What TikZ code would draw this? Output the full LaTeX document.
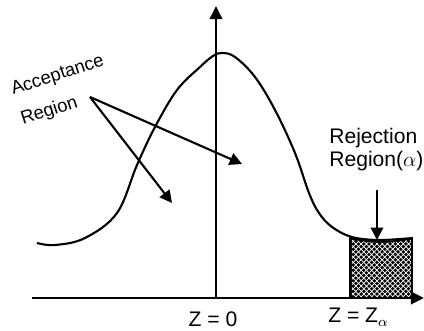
\documentclass[tikz,border=0pt]{standalone}
\usepackage{fontspec}
\setmainfont{Liberation Sans}
\usepackage{tikz}
\usetikzlibrary{arrows.meta, positioning, patterns}

\tikzset{
  axisline/.style={line width=1.7pt, -{Triangle[length=7.5pt,width=7pt]}},
  pointer/.style={line width=1.2pt, -{Triangle[length=7pt,width=7pt]}},
  bell/.style={line width=1.2pt},
  txt/.style={inner sep=0pt, font=\fontsize{12}{14}\selectfont},
}

\begin{document}
\begin{tikzpicture}[x=0.02cm, y=-0.02cm]
  \useasboundingbox (0,0) rectangle (424,331);

  % rejection area under the tail
  \fill[black] (350,298) -- (350,237) .. controls (380,242) .. (413,238) -- (413,298) -- cycle;
  \fill[pattern=crosshatch, pattern color=white] (352,298) -- (352,240) .. controls (380,244) .. (411,240) -- (411,298) -- cycle;
  \draw[line width=1.6pt] (350,298) -- (350,237);

  % axes
  \coordinate (origin) at (216,298);
  \coordinate (xstart) at (32,298);
  \coordinate (xend) at (424,298);
  \coordinate (yend) at (216,6);
  \draw[axisline] (xstart) -- (xend);
  \draw[axisline] (origin) -- (yend);

  % normal curve
  \draw[bell] plot[smooth, tension=0.6] coordinates {
    (37,243) (55,245) (85,238) (117,213) (137,165) (155,127) (177,90)
    (200,67) (213,56) (222,53) (235,57) (255,77) (275,110) (295,153)
    (309,193) (319,213) (332,227) (352,237) (379,240) (413,238)};

  % labels
  \node[txt, font=\fontsize{10.5}{18}\selectfont, align=left, rotate=18, anchor=south west] (accept) at (24,129) {Acceptance\\Region};
  \node[txt, font=\fontsize{12}{13}\selectfont, align=left, anchor=north west] (reject) at (329,128) {Rejection\\Region($\alpha$)};
  \node[txt, anchor=north] (zzero) at (213,311) {Z = 0};
  \node[txt, anchor=north west] (zalpha) at (328,308) {Z = Z$_\alpha$};

  % pointers
  \coordinate (accfrom) at (90,97);
  \coordinate (accleft) at (172,203);
  \coordinate (accright) at (242,164);
  \coordinate (rejfrom) at (377,190);
  \coordinate (rejto) at (377,240);
  \draw[pointer] (accfrom) -- (accleft);
  \draw[pointer] (accfrom) -- (accright);
  \draw[pointer] (rejfrom) -- (rejto);
\end{tikzpicture}
\end{document}
